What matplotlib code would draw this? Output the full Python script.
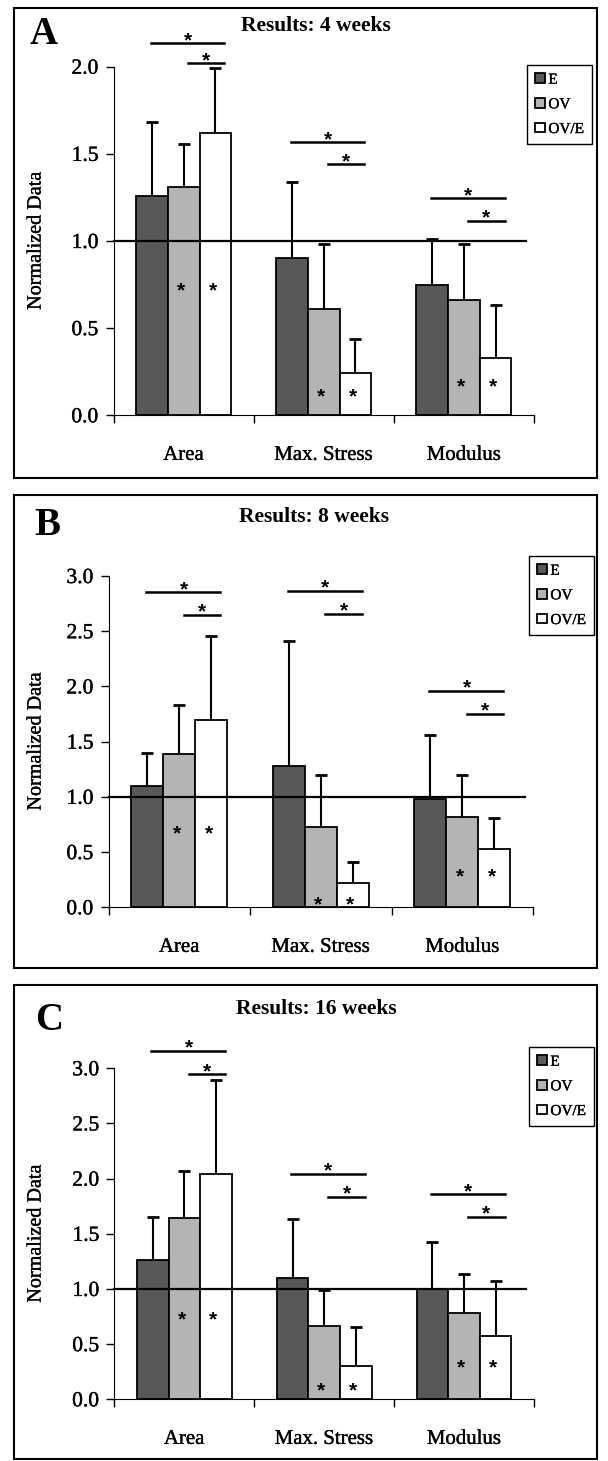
import matplotlib
matplotlib.use('Agg')
import matplotlib.pyplot as plt
import matplotlib.patheffects as pe
from matplotlib.patches import Rectangle
import numpy as np

plt.rcParams['font.family'] = ['Liberation Serif', 'DejaVu Serif']

groups = ['Area', 'Max. Stress', 'Modulus']
series = ['E', 'OV', 'OV/E']
colors = ['#585858', '#b4b4b4', '#ffffff']
titles = ['Results: 4 weeks', 'Results: 8 weeks', 'Results: 16 weeks']
letters = ['A', 'B', 'C']
ymax = [2.0, 3.0, 3.0]

# means, one list per group (Area, Max. Stress, Modulus)
e_4wk = [1.26, 0.90, 0.75]
ov_4wk = [1.31, 0.61, 0.66]
ove_4wk = [1.62, 0.24, 0.33]
e_4wk_sd = [0.42, 0.44, 0.26]
ov_4wk_sd = [0.245, 0.37, 0.32]
ove_4wk_sd = [0.37, 0.20, 0.30]

e_8wk = [1.10, 1.28, 0.98]
ov_8wk = [1.39, 0.73, 0.815]
ove_8wk = [1.70, 0.22, 0.53]
e_8wk_sd = [0.30, 1.135, 0.58]
ov_8wk_sd = [0.44, 0.47, 0.385]
ove_8wk_sd = [0.76, 0.19, 0.28]

e_16wk = [1.26, 1.10, 1.00]
ov_16wk = [1.64, 0.66, 0.78]
ove_16wk = [2.04, 0.30, 0.57]
e_16wk_sd = [0.39, 0.53, 0.43]
ov_16wk_sd = [0.43, 0.33, 0.36]
ove_16wk_sd = [0.85, 0.355, 0.50]

# significance bars: (E vs OV/E level, OV vs OV/E level) per group
sig_4wk = [(2.134, 2.02), (1.566, 1.44), (1.245, 1.115)]
sig_8wk = [(2.853, 2.648), (2.865, 2.66), (1.962, 1.751)]
sig_16wk = [(3.157, 2.945), (2.042, 1.834), (1.858, 1.655)]
# height of the "*" inside OV and OV/E bars
star_4wk = [0.748, 0.145, 0.20]
star_8wk = [0.721, 0.08, 0.33]
star_16wk = [0.78, 0.13, 0.34]

means = [[e_4wk, ov_4wk, ove_4wk], [e_8wk, ov_8wk, ove_8wk], [e_16wk, ov_16wk, ove_16wk]]
sds = [[e_4wk_sd, ov_4wk_sd, ove_4wk_sd], [e_8wk_sd, ov_8wk_sd, ove_8wk_sd],
       [e_16wk_sd, ov_16wk_sd, ove_16wk_sd]]
sigs = [sig_4wk, sig_8wk, sig_16wk]
stars = [star_4wk, star_8wk, star_16wk]

W, H = 608, 1461
fig = plt.figure(figsize=(W/100, H/100), dpi=100)

# axes boxes in pixels: left, top, right, bottom
boxes = [(113.6, 66.7, 534, 415.3), (108.6, 576, 533.2, 907.3), (114.4, 1068.3, 534, 1399.3)]
frames = [(13.6, 8, 597, 478), (13.6, 495, 597, 968), (13.6, 985, 597, 1459)]
legpos = [(527, 65), (529, 556), (529, 1047)]
letterpos = [(43.5, 35), (47.5, 525), (49, 1021)]
titlepos = [(316, 26), (314, 517), (316.5, 1008.5)]

heavy = [pe.withStroke(linewidth=0.25, foreground='black')]
star_font = dict(family='Liberation Sans', fontweight='bold', fontsize=15)


def put_star(ax, x, y, dy_px=0):
    # centre the asterisk glyph on (x, y)
    ax.annotate('*', (x, y), xytext=(0, -0.57*15 + dy_px*0.72), textcoords='offset points',
                ha='center', va='baseline', annotation_clip=False, **star_font)


x = np.arange(len(groups))
bw = 0.226
for p in range(3):
    l, t, r, b = boxes[p]
    ax = fig.add_axes([l/W, 1 - b/H, (r - l)/W, (b - t)/H])
    handles = []
    for s in range(3):
        pos = x + (s - 1)*bw
        bars = ax.bar(pos, means[p][s], bw, color=colors[s], edgecolor='black',
                      linewidth=1.3, label=series[s], zorder=2)
        eb = ax.errorbar(pos, means[p][s], yerr=[np.zeros(3), sds[p][s]], fmt='none',
                         ecolor='black', elinewidth=1.5, capsize=4.5, capthick=2, zorder=3)
        eb[1][0].set_visible(False)  # no cap at the bar top
        handles.append(bars)
    ax.plot([-0.5, 2.44], [1, 1], color='black', lw=1.6, zorder=4, clip_on=False)

    for g in range(3):
        y1, y2 = sigs[p][g]
        ax.plot([g - 0.235, g + 0.29], [y1, y1], color='black', lw=1.8, clip_on=False)
        ax.plot([g + 0.03, g + 0.29], [y2, y2], color='black', lw=1.8, clip_on=False)
        put_star(ax, g + 0.03, y1, dy_px=9)
        put_star(ax, g + 0.16, y2, dy_px=9)
        put_star(ax, g - 0.02, stars[p][g])
        put_star(ax, g + bw - 0.02, stars[p][g])

    ax.set_xlim(-0.5, 2.5)
    ax.set_ylim(0, ymax[p])
    ax.set_yticks(np.arange(0, ymax[p] + 0.01, 0.5))
    ax.set_yticklabels(['%.1f' % v for v in np.arange(0, ymax[p] + 0.01, 0.5)])
    ax.set_xticks(x)
    ax.set_xticklabels(groups)
    ax.set_xticks([-0.5, 0.5, 1.5, 2.5], minor=True)
    ax.tick_params(axis='x', which='major', length=0, pad=22, labelsize=15)
    ax.tick_params(axis='x', which='minor', length=6, width=1, direction='out')
    ax.tick_params(axis='y', length=6, width=1, direction='out', pad=5, labelsize=15.5)
    for lab in ax.get_xticklabels() + ax.get_yticklabels():
        lab.set_path_effects(heavy)
    ax.spines['top'].set_visible(False)
    ax.spines['right'].set_visible(False)
    ylab = ax.set_ylabel('Normalized Data', fontsize=14.5)
    ylab.set_path_effects(heavy)
    ax.yaxis.set_label_coords(-(l - 45.5)/(r - l), 0.5)

    lx, ly = legpos[p]
    leg = fig.legend(handles=handles, loc='upper left', bbox_to_anchor=(lx/W, 1 - ly/H),
                     bbox_transform=fig.transFigure, borderaxespad=0, fontsize=11,
                     handlelength=0.6, handleheight=0.6, handletextpad=0.25,
                     labelspacing=0.75, borderpad=0.55, fancybox=False, framealpha=1)
    leg.get_frame().set_edgecolor('black')
    leg.get_frame().set_linewidth(1.0)
    for txt in leg.get_texts():
        txt.set_path_effects(heavy)

    tx, ty = titlepos[p]
    fig.text(tx/W, 1 - ty/H, titles[p], ha='center', va='center', fontsize=15.5, fontweight='bold')
    cx, cy = letterpos[p]
    fig.text(cx/W, 1 - cy/H, letters[p], ha='center', va='center', fontsize=28, fontweight='bold')

    fl, ft, fr, fb = frames[p]
    fig.patches.append(Rectangle((fl/W, 1 - fb/H), (fr - fl)/W, (fb - ft)/H, fill=False,
                                 edgecolor='black', linewidth=1.5, transform=fig.transFigure))

fig.savefig('out.png', dpi=100)
